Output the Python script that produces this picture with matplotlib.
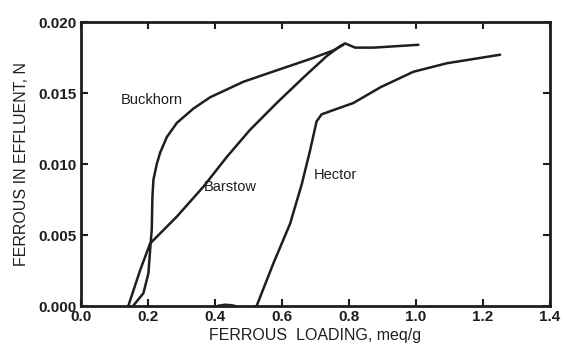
import numpy as np
import matplotlib
matplotlib.use('agg')
from matplotlib import pyplot as plt

plt.rcParams['font.family'] = ['Liberation Sans', 'DejaVu Sans']

# breakthrough curves, ferrous loading (meq/g) vs effluent ferrous (N)
buckhorn_x = [0.155, 0.186, 0.201, 0.206, 0.211, 0.213, 0.216, 0.226, 0.236, 0.256, 0.286,
              0.335, 0.385, 0.485, 0.584, 0.684, 0.753, 0.783]
buckhorn_y = [0.0, 0.0009, 0.0023, 0.0039, 0.0054, 0.0077, 0.0089, 0.0100, 0.0108, 0.0119, 0.0129,
              0.0139, 0.0147, 0.0158, 0.0166, 0.0174, 0.0180, 0.0184]

barstow_x = [0.141, 0.176, 0.206, 0.286, 0.365, 0.435, 0.504, 0.584, 0.664, 0.733, 0.773,
             0.788, 0.818, 0.873, 0.940, 1.007]
barstow_y = [0.0, 0.0025, 0.0044, 0.0063, 0.0084, 0.0105, 0.0124, 0.0143, 0.0161, 0.0176, 0.0183,
             0.0185, 0.0182, 0.0182, 0.0183, 0.0184]

hector_x = [0.524, 0.574, 0.624, 0.659, 0.684, 0.703, 0.718, 0.753, 0.813, 0.893, 0.992, 1.092, 1.251]
hector_y = [0.0, 0.0030, 0.0058, 0.0086, 0.0110, 0.0130, 0.0135, 0.0138, 0.0143, 0.0154, 0.0165,
            0.0171, 0.0177]

labels = ['Buckhorn', 'Barstow', 'Hector']
label_pos = [(0.21, 0.0145), (0.445, 0.0084), (0.76, 0.0092)]

ink = '#1e1e1e'

fig = plt.figure(figsize=(5.63, 3.45), dpi=100)
ax = fig.add_axes([0.144, 0.113, 0.833, 0.823])

for xs, ys in [(buckhorn_x, buckhorn_y), (barstow_x, barstow_y), (hector_x, hector_y)]:
    ax.plot(xs, ys, color=ink, lw=1.8, solid_joinstyle='round', solid_capstyle='round')

# small blip sitting on the baseline
ax.plot([0.41, 0.43, 0.45, 0.46], [0.00005, 0.00012, 0.00008, 0.00003], color=ink, lw=1.2)

for name, (lx, ly) in zip(labels, label_pos):
    ax.text(lx, ly, name, ha='center', va='center', fontsize=10.5, color=ink)

xt = np.arange(0.0, 1.41, 0.2)
yt = np.arange(0.0, 0.0201, 0.005)
ax.set_xlim(0.0, 1.4)
ax.set_ylim(0.0, 0.020)
ax.set_xticks(xt)
ax.set_yticks(yt)
ax.set_xticklabels([f'{v:.1f}' for v in xt])
ax.set_yticklabels([f'{v:.3f}' for v in yt])
ax.tick_params(direction='in', length=5, width=1.5, color=ink,
               top=True, right=True, labelsize=11, labelcolor=ink, pad=3)
for lbl in ax.get_xticklabels() + ax.get_yticklabels():
    lbl.set_fontweight('bold')
for side in ax.spines.values():
    side.set_linewidth(2)
    side.set_color(ink)

ax.set_xlabel('FERROUS  LOADING, meq/g', fontsize=11.5, color=ink, labelpad=3)
ax.set_ylabel('FERROUS IN EFFLUENT, N', fontsize=11.5, color=ink, labelpad=7)

plt.savefig('out.png')
plt.close()
